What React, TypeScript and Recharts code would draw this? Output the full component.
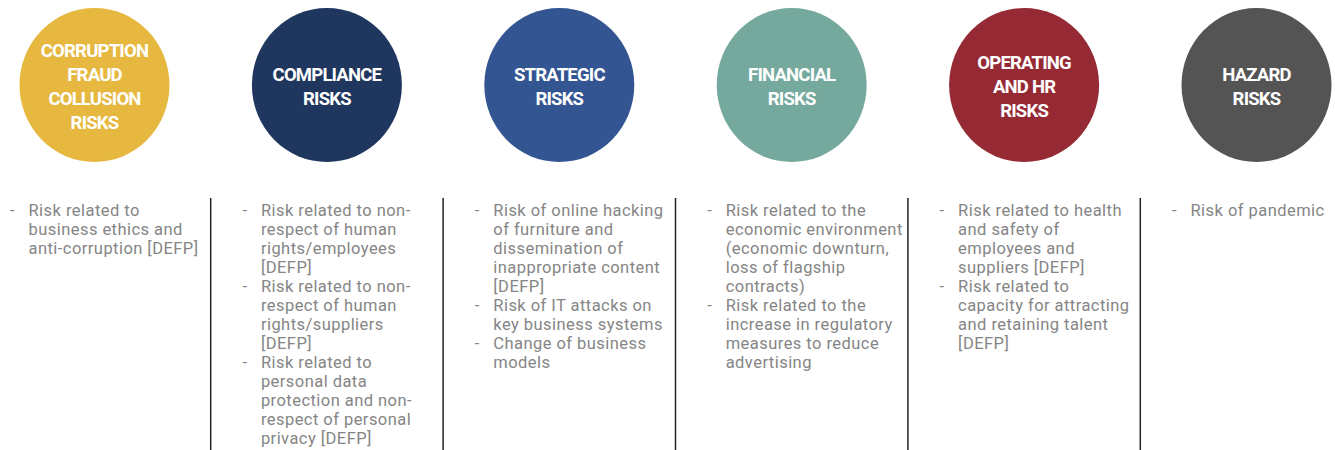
import React from 'react';
import { ScatterChart, Scatter, XAxis, YAxis, ReferenceLine } from 'recharts';

// ---- data ----
const riskTitles: string[][] = [
  ['CORRUPTION', 'FRAUD', 'COLLUSION', 'RISKS'],
  ['COMPLIANCE', 'RISKS'],
  ['STRATEGIC', 'RISKS'],
  ['FINANCIAL', 'RISKS'],
  ['OPERATING', 'AND HR', 'RISKS'],
  ['HAZARD', 'RISKS'],
];

const riskColors: string[] = ['#e6b83f', '#1f365e', '#335692', '#76a99e', '#952a35', '#545454'];

const riskItems: string[][][] = [
  [['Risk related to', 'business ethics and', 'anti-corruption [DEFP]']],
  [
    ['Risk related to non-', 'respect of human', 'rights/employees', '[DEFP]'],
    ['Risk related to non-', 'respect of human', 'rights/suppliers', '[DEFP]'],
    ['Risk related to', 'personal data', 'protection and non-', 'respect of personal', 'privacy [DEFP]'],
  ],
  [
    ['Risk of online hacking', 'of furniture and', 'dissemination of', 'inappropriate content', '[DEFP]'],
    ['Risk of IT attacks on', 'key business systems'],
    ['Change of business', 'models'],
  ],
  [
    ['Risk related to the', 'economic environment', '(economic downturn,', 'loss of flagship', 'contracts)'],
    ['Risk related to the', 'increase in regulatory', 'measures to reduce', 'advertising'],
  ],
  [
    ['Risk related to health', 'and safety of', 'employees and', 'suppliers [DEFP]'],
    ['Risk related to', 'capacity for attracting', 'and retaining talent', '[DEFP]'],
  ],
  [['Risk of pandemic']],
];

// ---- layout ----
const W = 1335;
const H = 450;
const PX_PER_UNIT = 232.4;
const FIRST_CENTER = 94.5;
const X_MIN = -FIRST_CENTER / PX_PER_UNIT;
const X_MAX = X_MIN + W / PX_PER_UNIT;
const CIRCLE_ROW = 85;
const SEP_TOP = 198;

const chartData = riskTitles.map((title, i) => ({
  x: i,
  y: CIRCLE_ROW,
  title,
  color: riskColors[i],
  items: riskItems[i],
}));

const RiskShape = (props: any) => {
  const { cx, cy, payload } = props;
  const title: string[] = payload.title;
  const items: string[][] = payload.items;
  const titleGap = 24;
  const titleStart = cy + 1 - ((title.length - 1) * titleGap) / 2 + 7;
  const lineH = 19;
  let row = 0;
  const textNodes: React.ReactNode[] = [];
  items.forEach((lines, bi) => {
    textNodes.push(
      <text
        key={`d${bi}`}
        x={cx - 84.5}
        y={cy + 131 + row * lineH}
        fontFamily="Roboto, sans-serif"
        fontSize={16.5}
        fill="#858585"
      >
        -
      </text>
    );
    lines.forEach((ln, li) => {
      textNodes.push(
        <text
          key={`t${bi}-${li}`}
          x={cx - 66}
          y={cy + 131 + row * lineH}
          fontFamily="Roboto, sans-serif"
          fontSize={16.5}
          letterSpacing={0.45}
          fill="#858585"
        >
          {ln}
        </text>
      );
      row += 1;
    });
  });
  return (
    <g>
      <ellipse cx={cx} cy={cy} rx={75} ry={77} fill={payload.color} />
      {title.map((t, i) => (
        <text
          key={i}
          x={cx}
          y={titleStart + i * titleGap}
          textAnchor="middle"
          fontFamily="Roboto, sans-serif"
          fontWeight={700}
          fontSize={18.5}
          letterSpacing={-0.8}
          fill="#ffffff"
        >
          {t}
        </text>
      ))}
      {textNodes}
    </g>
  );
};

export default function App() {
  return (
    <div style={{ position: 'absolute', left: 0, top: 0, width: W, height: H, background: '#fff' }}>
      <ScatterChart width={W} height={H} margin={{ top: 0, right: 0, bottom: 0, left: 0 }}>
        <XAxis type="number" dataKey="x" domain={[X_MIN, X_MAX]} hide allowDataOverflow />
        <YAxis type="number" dataKey="y" domain={[0, H]} reversed hide allowDataOverflow />
        {riskTitles.slice(0, -1).map((_, i) => (
          <ReferenceLine
            key={i}
            segment={[
              { x: i + 0.5, y: SEP_TOP },
              { x: i + 0.5, y: H },
            ]}
            stroke="#222"
            strokeWidth={1.5}
          />
        ))}
        <Scatter data={chartData} shape={RiskShape} isAnimationActive={false} />
      </ScatterChart>
    </div>
  );
}
